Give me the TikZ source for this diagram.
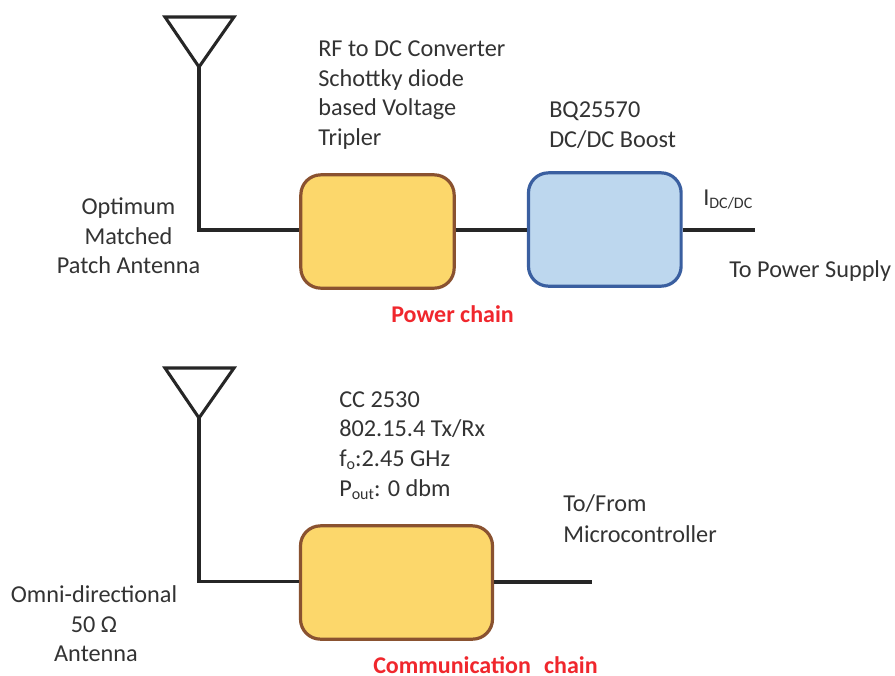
\documentclass[tikz,border=0pt]{standalone}
\usepackage{fontspec}
\setmainfont{Carlito}
\usepackage{xcolor}
\definecolor{ink}{HTML}{262626}
\definecolor{txt}{HTML}{333333}
\definecolor{yfill}{HTML}{FCD76B}
\definecolor{ydraw}{HTML}{8A5230}
\definecolor{bfill}{HTML}{BDD7EE}
\definecolor{bdraw}{HTML}{3A5FA0}
\definecolor{lab}{HTML}{F0272D}
\newcommand{\sbs}[1]{\raisebox{-0.3ex}{\fontsize{12}{14}\selectfont #1}}
\tikzset{
  wire/.style={draw=ink,line width=2.3pt,line join=miter},
  aerial/.style={draw=ink,line width=2.3pt,line join=miter},
  ybox/.style={draw=ydraw,fill=yfill,line width=2.4pt,rounded corners=15pt,inner sep=0pt},
  bbox/.style={draw=bdraw,fill=bfill,line width=2.4pt,rounded corners=15pt,inner sep=0pt},
  txtl/.style={text=txt,font=\fontsize{18.2}{22.4}\selectfont,align=left,inner sep=0pt,anchor=base west},
  txtc/.style={text=txt,font=\fontsize{18.2}{22.4}\selectfont,align=center,inner sep=0pt,anchor=base},
  redlab/.style={text=lab,font=\fontsize{18}{20}\selectfont\bfseries,inner sep=0pt,anchor=base west}
}
\begin{document}
\begin{tikzpicture}[x=0.75pt,y=-0.75pt]
\useasboundingbox (0,0) rectangle (895,675);
\fill[white] (0,0) rectangle (895,675);
% power chain
\node[ybox,minimum width=115pt,minimum height=85pt] (rect) at (377.5,231.5) {};
\node[bbox,minimum width=114.5pt,minimum height=85pt] (boost) at (604.8,229.5) {};
\coordinate (a1tip) at (199,67);
\coordinate (a1l) at (165,17);
\coordinate (a1r) at (234,17);
\coordinate (a1c) at (199,230);
\coordinate (pout) at (755,230);
\draw[aerial] (a1l) -- (a1r) -- (a1tip) -- cycle;
\draw[wire] (a1tip) -- (a1c) -- (rect.west |- a1c);
\draw[wire] (rect.east |- a1c) -- (boost.west |- a1c);
\draw[wire] (boost.east |- pout) -- (pout);
% communication chain
\node[ybox,minimum width=144pt,minimum height=85pt] (cc) at (396.5,582.5) {};
\coordinate (a2tip) at (199,418);
\coordinate (a2l) at (165,368);
\coordinate (a2r) at (234,368);
\coordinate (a2c) at (199,581.5);
\coordinate (cout) at (592,582);
\draw[aerial] (a2l) -- (a2r) -- (a2tip) -- cycle;
\draw[wire] (a2tip) -- (a2c) -- (cc.west |- a2c);
\draw[wire] (cc.east |- cout) -- (cout);
% texts
\node[txtl] (t1) at (318,56) {RF to DC Converter};
\node[txtl] (t2) at (318,86) {Schottky diode};
\node[txtl] (t3) at (318,115) {based Voltage};
\node[txtl] (t4) at (318,145) {Tripler};
\node[txtl] (t5) at (549,117) {BQ25570};
\node[txtl] (t6) at (549,147) {DC/DC Boost};
\node[txtl] (t7) at (703,205) {I\sbs{DC/DC}};
\node[txtl] (t8) at (729,277) {To Power Supply};
\node[txtc] (t9) at (128.5,214) {Optimum};
\node[txtc] (t10) at (128.5,244) {Matched};
\node[txtc] (t11) at (128.5,273) {Patch Antenna};
\node[redlab] (t12) at (391,322) {Power chain};
\node[txtl] (t13) at (339,407) {CC 2530};
\node[txtl] (t14) at (339,436) {802.15.4 Tx/Rx};
\node[txtl] (t15) at (339,466) {f\sbs{o}:2.45 GHz};
\node[txtl] (t16) at (339,496) {P\sbs{out}: 0 dbm};
\node[txtl] (t17) at (563,511) {To/From};
\node[txtl] (t18) at (563,542) {Microcontroller};
\node[txtc] (t19) at (94,602) {Omni-directional};
\node[txtc] (t20) at (94,632) {50 Ω};
\node[txtc] (t21) at (96,661) {Antenna};
\node[redlab] (t22) at (373,673) {Communication\hspace{0.55em}chain};
\end{tikzpicture}
\end{document}
